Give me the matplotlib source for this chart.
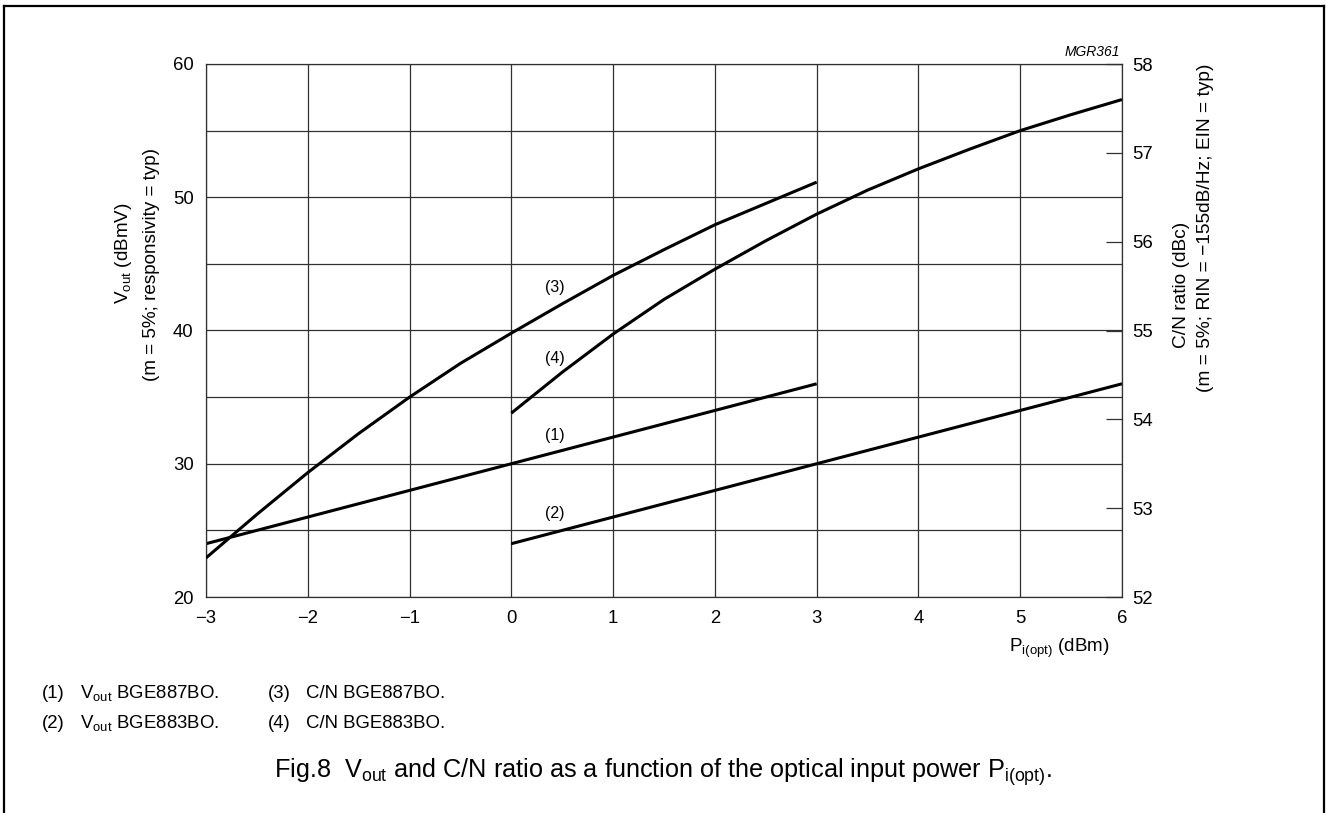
import matplotlib
matplotlib.use("Agg")
import matplotlib.pyplot as plt
from matplotlib.lines import Line2D

plt.rcParams['font.family'] = ['Liberation Sans', 'DejaVu Sans']
plt.rcParams['mathtext.fontset'] = 'custom'
plt.rcParams['mathtext.rm'] = 'Liberation Sans'
plt.rcParams['mathtext.it'] = 'Liberation Sans:italic'

# Vout curves (dBmV, left axis)
p_vout1 = [-3, -2, -1, 0, 1, 2, 3]
vout1 = [24, 26, 28, 30, 32, 34, 36]          # (1) BGE887BO
p_vout2 = [0, 1, 2, 3, 4, 5, 6]
vout2 = [24, 26, 28, 30, 32, 34, 36]          # (2) BGE883BO

# C/N curves (dBc, right axis)
p_cn3 = [-3, -2.5, -2, -1.5, -1, -0.5, 0, 0.5, 1, 1.5, 2, 2.5, 3]
cn3 = [52.44, 52.93, 53.40, 53.84, 54.25, 54.63, 54.97, 55.30, 55.62, 55.91, 56.19, 56.43, 56.67]
p_cn4 = [0, 0.5, 1, 1.5, 2, 2.5, 3, 3.5, 4, 4.5, 5, 5.5, 6]
cn4 = [54.07, 54.53, 54.96, 55.35, 55.69, 56.01, 56.31, 56.58, 56.82, 57.04, 57.25, 57.43, 57.60]

xticks = list(range(-3, 7))
yticks_left = [20, 30, 40, 50, 60]
ygrid_left = list(range(20, 61, 5))
yticks_right = list(range(52, 59))

W, H = 1326, 813
fig = plt.figure(figsize=(W / 100, H / 100), dpi=100)
ax = fig.add_axes([206 / W, 1 - 597 / H, 916 / W, 533 / H])
ax2 = ax.twinx()

gcol = '#303030'
ax.set_xlim(-3, 6)
ax.set_ylim(20, 60)
ax.set_xticks(xticks)
ax.set_yticks(ygrid_left)
ax.set_yticklabels([str(v) if v in yticks_left else '' for v in ygrid_left])
ax.grid(True, color=gcol, linewidth=0.9)
ax.tick_params(axis='both', length=0, labelsize=13.3, colors='black')
ax.tick_params(axis='x', pad=9)
ax.tick_params(axis='y', pad=9)
for s in ax.spines.values():
    s.set_color(gcol)
    s.set_linewidth(0.9)

ax2.set_ylim(52, 58)
ax2.set_yticks(yticks_right)
ax2.tick_params(axis='y', direction='in', length=11.5, width=0.9, color=gcol,
                labelsize=13.3, pad=7)
for s in ax2.spines.values():
    s.set_visible(False)

ax.plot(p_vout1, vout1, color='black', lw=2.2, solid_capstyle='butt')
ax.plot(p_vout2, vout2, color='black', lw=2.2, solid_capstyle='butt')
ax2.plot(p_cn3, cn3, color='black', lw=2.2, solid_capstyle='butt')
ax2.plot(p_cn4, cn4, color='black', lw=2.2, solid_capstyle='butt')

# curve numbers
for lab, yy in [('(3)', 43.2), ('(4)', 37.9), ('(1)', 32.1), ('(2)', 26.3)]:
    ax.text(0.43, yy, lab, fontsize=11.5, ha='center', va='center')

# axis titles
fig.text(124 / W, 1 - 253 / H, r'V$_{\mathregular{out}}$ (dBmV)', rotation=90,
         fontsize=13.6, ha='center', va='center')
fig.text(152 / W, 1 - 264 / H, '(m = 5%; responsivity = typ)', rotation=90,
         fontsize=13.6, ha='center', va='center')
fig.text(1182 / W, 1 - 285 / H, 'C/N ratio (dBc)', rotation=90,
         fontsize=13.8, ha='center', va='center')
fig.text(1205 / W, 1 - 228 / H, '(m = 5%; RIN = \u2212155dB/Hz; EIN = typ)', rotation=90,
         fontsize=13.8, ha='center', va='center')
fig.text(1110 / W, 1 - 652 / H, r'P$_{\mathregular{i(opt)}}$ (dBm)',
         fontsize=13.6, ha='right', va='baseline')
fig.text(1120 / W, 1 - 52 / H, 'MGR361', fontsize=10, style='italic',
         ha='right', va='center')

# notes
notes = [('(1)', r'V$_{\mathregular{out}}$ BGE887BO.', 42, 698),
         ('(2)', r'V$_{\mathregular{out}}$ BGE883BO.', 42, 728),
         ('(3)', 'C/N BGE887BO.', 268, 698),
         ('(4)', 'C/N BGE883BO.', 268, 728)]
for num, txt, x0, y0 in notes:
    fig.text(x0 / W, 1 - y0 / H, num, fontsize=13.4, ha='left', va='baseline')
    fig.text((x0 + 38) / W, 1 - y0 / H, txt, fontsize=13.4, ha='left', va='baseline')

fig.text(0.5, 1 - 778 / H,
         r'Fig.8  V$_{\mathregular{out}}$ and C/N ratio as a function of the optical input power P$_{\mathregular{i(opt)}}$.',
         fontsize=18.2, ha='center', va='baseline')

# page frame (open at bottom)
fr = dict(color='black', lw=1.6, transform=fig.transFigure)
fig.add_artist(Line2D([4 / W, 4 / W], [0, 1 - 6 / H], **fr))
fig.add_artist(Line2D([4 / W, 1324 / W], [1 - 6 / H, 1 - 6 / H], **fr))
fig.add_artist(Line2D([1324 / W, 1324 / W], [1 - 6 / H, 0], **fr))

fig.savefig('out.png', dpi=100)
